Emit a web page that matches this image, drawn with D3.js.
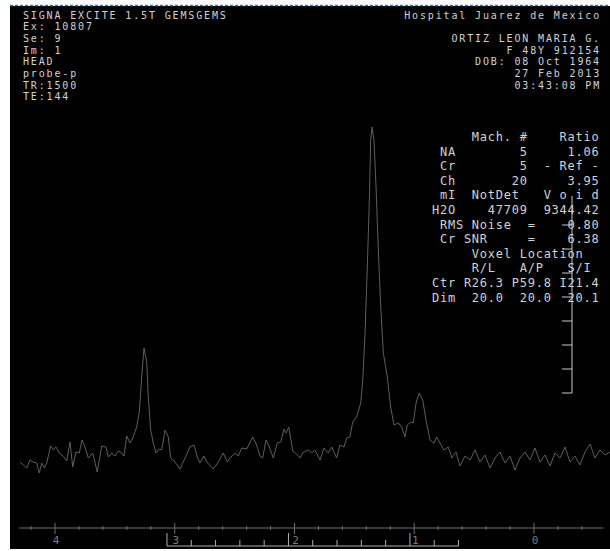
<!DOCTYPE html>
<html>
<head>
<meta charset="utf-8">
<script src="https://cdn.jsdelivr.net/npm/d3@7"></script>
<style>
  body { margin: 0; background: #fff; }
  svg text { font-family: "DejaVu Sans Mono", monospace; white-space: pre; }
</style>
</head>
<body>
<svg id="chart" width="610" height="551"></svg>
<script>
// spectrum (ppm, intensity in arbitrary units)
const ppm = [4.292,4.265,4.236,4.209,4.184,4.153,4.131,4.111,4.089,4.069,
  4.036,4.014,3.992,3.964,3.931,3.902,3.875,3.852,3.825,3.797,
  3.775,3.750,3.722,3.685,3.647,3.610,3.574,3.555,3.527,3.499,
  3.471,3.443,3.424,3.401,3.374,3.351,3.318,3.296,3.276,3.257,
  3.234,3.221,3.201,3.179,3.157,3.129,3.109,3.081,3.054,3.034,
  2.998,2.956,2.914,2.873,2.839,2.812,2.789,2.756,2.733,2.678,
  2.636,2.595,2.561,2.539,2.497,2.469,2.441,2.399,2.349,2.316,
  2.288,2.266,2.238,2.210,2.177,2.144,2.115,2.088,2.071,2.048,
  2.015,1.982,1.954,1.926,1.885,1.856,1.829,1.787,1.754,1.718,
  1.689,1.648,1.620,1.587,1.564,1.537,1.514,1.481,1.447,1.430,
  1.411,1.392,1.375,1.364,1.353,1.336,1.319,1.300,1.280,1.258,
  1.225,1.197,1.169,1.133,1.105,1.077,1.058,1.030,1.008,0.985,
  0.958,0.929,0.902,0.868,0.835,0.813,0.785,0.752,0.716,0.685,
  0.651,0.618,0.576,0.534,0.493,0.451,0.409,0.367,0.326,0.284,
  0.242,0.200,0.159,0.117,0.075,0.033,-0.008,-0.050,-0.092,-0.134,
  -0.175,-0.217,-0.259,-0.301,-0.342,-0.384,-0.426,-0.468,-0.509,-0.551,
  -0.593,-0.635];
const intensity = [8,5,2,10,8,7,-3,7,2,7,
  24,20,23,17,14,9,28,3,18,17,
  30,23,12,17,-2,24,23,13,17,14,
  19,17,14,34,27,32,43,58,93,122,
  108,73,40,27,17,21,20,40,33,12,
  8,1,12,23,25,13,7,14,8,1,
  8,17,8,12,17,14,22,21,33,25,
  14,12,30,23,12,27,28,41,37,43,
  19,16,12,18,20,17,20,10,22,17,
  23,12,25,23,32,33,48,53,67,90,
  137,203,270,330,343,330,283,220,163,117,
  93,63,45,47,43,33,45,48,47,67,
  77,70,50,30,27,33,27,20,23,12,
  18,4,14,10,20,8,15,2,12,18,
  7,14,0,12,18,10,22,8,15,4,
  17,12,23,8,14,5,18,26,12,20,
  15,18];

const majorTicks = [4, 3, 2, 1, 0];
const axisRange = [4.3, -0.58];
const bracketRange = [3.065, 0.63];
const bracketSteps = 12;

const headerLeft = ["SIGNA EXCITE 1.5T GEMSGEMS", "Ex: 10807", "Se: 9", "Im: 1",
  "HEAD", "probe-p", "TR:1500", "TE:144"];
const headerRight = ["Hospital Juarez de Mexico", "", "ORTIZ LEON MARIA G.",
  "F 48Y 912154", "DOB: 08 Oct 1964", "27 Feb 2013", "03:43:08 PM"];
const tableRows = [
  "     Mach. #    Ratio",
  " NA        5     1.06",
  " Cr        5  - Ref -",
  " Ch       20     3.95",
  " mI  NotDet   V o i d",
  "H2O    47709  9344.42",
  " RMS Noise  =    0.80",
  " Cr SNR     =    6.38",
  "     Voxel Location  ",
  "     R/L   A/P   S/I ",
  "Ctr R26.3 P59.8 I21.4",
  "Dim  20.0  20.0  20.1"];

const svg = d3.select("#chart");

svg.append("rect").attr("x", 10).attr("y", 6).attr("width", 600).attr("height", 543)
  .attr("fill", "#000");
svg.append("line").attr("x1", 10).attr("x2", 610).attr("y1", 5.5).attr("y2", 5.5)
  .attr("stroke", "#3f6ea8").attr("stroke-width", 1.5).attr("stroke-dasharray", "3,2");

const x = d3.scaleLinear().domain([4, 0]).range([55, 534]);
const y = d3.scaleLinear().domain([0, 343]).range([470, 127]);

// spectrum
const pts = ppm.map((p, i) => [p, intensity[i]]);
svg.append("path")
  .datum(pts)
  .attr("fill", "none")
  .attr("stroke", "#5e5e5e")
  .attr("stroke-width", 1)
  .attr("d", d3.line().x(d => x(d[0])).y(d => y(d[1])));

// ppm axis
const axisY = 528;
const ax = svg.append("g").attr("stroke", "#6e6e6e");
ax.append("line").attr("x1", x(axisRange[0])).attr("x2", x(axisRange[1]))
  .attr("y1", axisY).attr("y2", axisY);
const minor = d3.range(42, -5, -2).map(d => d / 10).filter(d => !majorTicks.includes(d));
ax.selectAll(".minor").data(minor).join("line")
  .attr("x1", d => x(d)).attr("x2", d => x(d))
  .attr("y1", axisY - 2).attr("y2", axisY + 2);
ax.selectAll(".major").data(majorTicks).join("line")
  .attr("x1", d => x(d)).attr("x2", d => x(d))
  .attr("y1", axisY - 5).attr("y2", axisY + 6);
svg.selectAll(".tick-label").data(majorTicks).join("text")
  .attr("x", d => x(d) + 1).attr("y", axisY + 16)
  .attr("text-anchor", "middle")
  .attr("font-size", 11).attr("fill", "#7a7a7a")
  .text(d => d);

// integration bracket
const bx = d3.scaleLinear().domain([0, bracketSteps]).range(bracketRange.map(x));
const bY = 546;
const br = svg.append("g").attr("stroke", "#b0b0b0").attr("stroke-width", 1);
br.append("line").attr("x1", bx(0)).attr("x2", bx(bracketSteps)).attr("y1", bY).attr("y2", bY);
br.selectAll("line.bt").data(d3.range(bracketSteps + 1)).join("line").attr("class", "bt")
  .attr("x1", d => bx(d)).attr("x2", d => bx(d))
  .attr("y1", d => (d % 5 === 0 ? bY - 13 : bY - 6)).attr("y2", bY);

// vertical scale bar
const barX = 572;
const barTicks = [225, 249, 273, 297, 321, 345, 369, 393];
const bar = svg.append("g").attr("stroke", "#c8c8c8");
bar.append("line").attr("x1", barX).attr("x2", barX).attr("y1", 196).attr("y2", d3.max(barTicks));
bar.selectAll("line.t").data(barTicks).join("line").attr("class", "t")
  .attr("x1", barX - 10).attr("x2", barX).attr("y1", d => d).attr("y2", d => d);

// annotations
const txt = "#d2d2d2";
const hfs = 10, hls = 1.85;   // header lines are packed tight
svg.selectAll(".hl").data(headerLeft).join("text")
  .attr("x", 23).attr("y", (d, i) => 18.5 + i * 11.7)
  .attr("font-size", hfs).attr("letter-spacing", hls).attr("fill", txt).text(d => d);
svg.selectAll(".hr").data(headerRight).join("text")
  .attr("x", 601).attr("y", (d, i) => 18.5 + i * 11.7)
  .attr("text-anchor", "end")
  .attr("font-size", hfs).attr("letter-spacing", hls).attr("fill", txt).text(d => d);
svg.selectAll(".tr").data(tableRows).join("text")
  .attr("x", 432).attr("y", (d, i) => 141 + i * 14.6)
  .attr("xml:space", "preserve")
  .attr("font-size", 12).attr("letter-spacing", 0.75).attr("fill", txt).text(d => d);
</script>
</body>
</html>
